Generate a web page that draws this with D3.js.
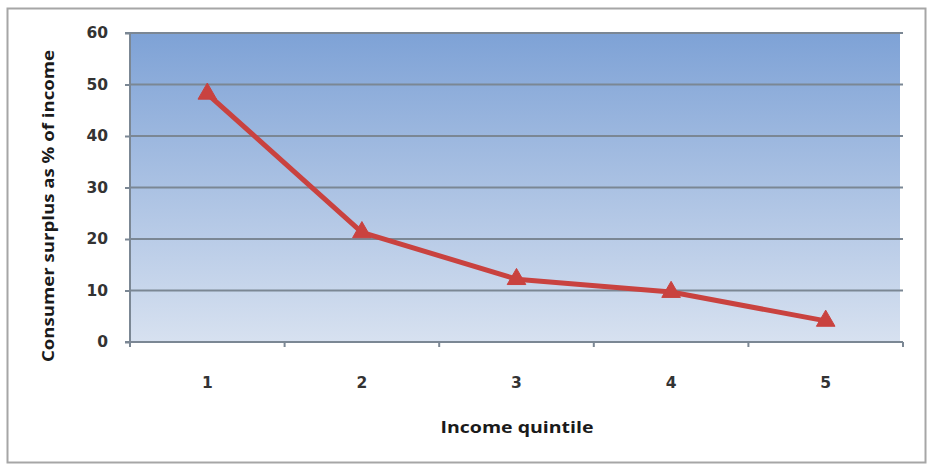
<!DOCTYPE html>
<html>
<head>
<meta charset="utf-8">
<script src="https://cdn.jsdelivr.net/npm/d3@7"></script>
<style>
  html, body { margin: 0; padding: 0; background: #ffffff; }
  svg { display: block; }
</style>
</head>
<body>
<svg id="chart" width="927" height="465"></svg>
<script>
// Consumer surplus by income quintile
const quintiles = ["1", "2", "3", "4", "5"];
const surplusPct = [48.2, 21.3, 12.2, 9.7, 4.1];
const yTicks = [0, 10, 20, 30, 40, 50, 60];
const xTitle = "Income quintile";
const yTitle = "Consumer surplus as % of income";

const svg = d3.select("#chart");
const plot = { left: 130, right: 903, top: 33, bottom: 342 };
const tickFont = "'DejaVu Sans', Verdana, sans-serif";

// outer frame
svg.append("rect")
  .attr("x", 7.5).attr("y", 8.5)
  .attr("width", 918).attr("height", 454)
  .attr("fill", "#ffffff")
  .attr("stroke", "#a6a6a6").attr("stroke-width", 2);

const x = d3.scaleBand().domain(quintiles).range([plot.left, plot.right]);
const y = d3.scaleLinear().domain([0, 60]).range([plot.bottom, plot.top]);

// plot-area gradient
const defs = svg.append("defs");
const grad = defs.append("linearGradient")
  .attr("id", "plotBg").attr("x1", 0).attr("y1", 0).attr("x2", 0).attr("y2", 1);
grad.append("stop").attr("offset", "0%").attr("stop-color", "#7ea2d6");
grad.append("stop").attr("offset", "100%").attr("stop-color", "#d7e1f0");

svg.append("rect")
  .attr("x", plot.left).attr("y", plot.top)
  .attr("width", plot.right - plot.left - 3)
  .attr("height", plot.bottom - plot.top)
  .attr("fill", "url(#plotBg)");

// horizontal gridlines
svg.append("g")
  .selectAll("line")
  .data(yTicks.filter(d => d > 0))
  .join("line")
  .attr("x1", plot.left).attr("x2", plot.right)
  .attr("y1", d => y(d)).attr("y2", d => y(d))
  .attr("stroke", "#7b8794").attr("stroke-width", 2);

// y axis
const yAxis = svg.append("g")
  .attr("transform", `translate(${plot.left},0)`)
  .call(d3.axisLeft(y).tickValues(yTicks).tickSize(5).tickPadding(17));
yAxis.select(".domain").attr("stroke", "#7b8794").attr("stroke-width", 2)
  .attr("d", `M${-5},${y(60)}H0V${y(0)}`);
yAxis.selectAll(".tick line").attr("stroke", "#7b8794").attr("stroke-width", 2);
yAxis.selectAll(".tick text")
  .attr("fill", "#333333")
  .style("font-family", tickFont)
  .style("font-weight", "bold")
  .style("font-size", "15.5px");

// x axis with category boundary ticks
const xAxisG = svg.append("g").attr("transform", `translate(0,${plot.bottom})`);
xAxisG.append("line")
  .attr("x1", plot.left - 5).attr("x2", plot.right)
  .attr("y1", 0).attr("y2", 0)
  .attr("stroke", "#7b8794").attr("stroke-width", 2);
const bounds = quintiles.map(q => x(q)).concat([plot.right]);
xAxisG.selectAll("line.bound")
  .data(bounds)
  .join("line")
  .attr("class", "bound")
  .attr("x1", d => d).attr("x2", d => d)
  .attr("y1", 0).attr("y2", 5)
  .attr("stroke", "#7b8794").attr("stroke-width", 2);
xAxisG.selectAll("text")
  .data(quintiles)
  .join("text")
  .attr("x", d => x(d) + x.bandwidth() / 2)
  .attr("y", 46)
  .attr("text-anchor", "middle")
  .attr("fill", "#333333")
  .style("font-family", tickFont)
  .style("font-weight", "bold")
  .style("font-size", "15.5px")
  .text(d => d);

// series line
const cx = d => x(d) + x.bandwidth() / 2;
const line = d3.line()
  .x((d, i) => cx(quintiles[i]))
  .y(d => y(d));
svg.append("path")
  .datum(surplusPct)
  .attr("d", line)
  .attr("fill", "none")
  .attr("stroke", "#c9423f")
  .attr("stroke-width", 5)
  .attr("stroke-linejoin", "round");

// triangle markers
const tri = d3.symbol().type(d3.symbolTriangle).size(150);
svg.append("g")
  .selectAll("path")
  .data(surplusPct)
  .join("path")
  .attr("d", tri)
  .attr("transform", (d, i) => `translate(${cx(quintiles[i])},${y(d)})`)
  .attr("fill", "#c9423f")
  .attr("stroke", "#c9423f").attr("stroke-width", 1);

// axis titles
svg.append("text")
  .attr("x", 517).attr("y", 433)
  .attr("text-anchor", "middle")
  .attr("fill", "#1a1a1a")
  .style("font-family", "'Open Sans', sans-serif")
  .style("font-weight", "bold")
  .style("font-size", "16px")
  .attr("textLength", 153).attr("lengthAdjust", "spacingAndGlyphs")
  .text(xTitle);

svg.append("text")
  .attr("transform", "translate(54,206) rotate(-90)")
  .attr("text-anchor", "middle")
  .attr("fill", "#1a1a1a")
  .style("font-family", "'Open Sans', sans-serif")
  .style("font-weight", "bold")
  .style("font-size", "16px")
  .attr("textLength", 312).attr("lengthAdjust", "spacingAndGlyphs")
  .text(yTitle);
</script>
</body>
</html>
